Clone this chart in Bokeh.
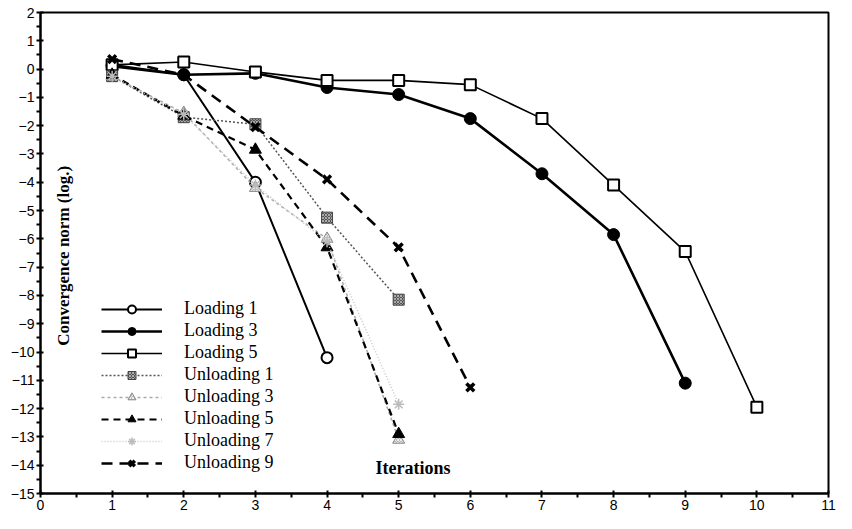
import math
from bokeh.plotting import figure
from bokeh.models import Legend, LegendItem, Label, FixedTicker, Range1d
from bokeh.embed import file_html
from bokeh.resources import INLINE

# ---- data ----
x_loading1 = [1, 2, 3, 4]
y_loading1 = [0.15, -0.2, -4.0, -10.2]

x_loading3 = [1, 2, 3, 4, 5, 6, 7, 8, 9]
y_loading3 = [0.1, -0.2, -0.15, -0.65, -0.9, -1.75, -3.7, -5.85, -11.1]

x_loading5 = [1, 2, 3, 4, 5, 6, 7, 8, 9, 10]
y_loading5 = [0.15, 0.25, -0.1, -0.4, -0.4, -0.55, -1.75, -4.1, -6.45, -11.95]

x_unloading1 = [1, 2, 3, 4, 5]
y_unloading1 = [-0.25, -1.7, -1.95, -5.25, -8.15]

x_unloading3 = [1, 2, 3, 4, 5]
y_unloading3 = [-0.25, -1.55, -4.2, -6.0, -13.1]

x_unloading5 = [1, 2, 3, 4, 5]
y_unloading5 = [-0.2, -1.65, -2.85, -6.3, -12.9]

x_unloading7 = [1, 2, 3, 4, 5]
y_unloading7 = [-0.25, -1.6, -4.1, -6.1, -11.85]

x_unloading9 = [1, 2, 3, 4, 5, 6]
y_unloading9 = [0.35, -0.2, -2.05, -3.9, -6.3, -11.25]

x_ticks = list(range(0, 12))
y_ticks = list(range(-15, 3))

p = figure(width=836, height=513, output_backend="svg", toolbar_location=None,
           x_range=Range1d(0, 11), y_range=Range1d(-15, 2),
           min_border_left=40, min_border_right=8, min_border_top=12, min_border_bottom=20)
p.xgrid.visible = False
p.ygrid.visible = False
p.outline_line_color = "black"
p.outline_line_width = 2
p.background_fill_color = "white"
p.border_fill_color = "white"

p.xaxis.ticker = FixedTicker(ticks=x_ticks, minor_ticks=[t + 0.5 for t in x_ticks[:-1]])
p.yaxis.ticker = FixedTicker(ticks=y_ticks, minor_ticks=[t + 0.5 for t in y_ticks[:-1]])
for ax in (p.xaxis, p.yaxis):
    ax.axis_line_width = 2
    ax.axis_line_color = "black"
    ax.major_tick_line_width = 2
    ax.minor_tick_line_width = 2
    ax.major_tick_in = 3
    ax.major_tick_out = 4
    ax.minor_tick_in = 0
    ax.minor_tick_out = 4
    ax.major_label_text_font = "Liberation Sans"
    ax.major_label_text_font_size = "14px"
    ax.major_label_text_color = "black"
    ax.major_label_standoff = 2

# ---- series ----
l1 = p.line(x_loading1, y_loading1, line_color="black", line_width=2)
m1 = p.scatter(x_loading1, y_loading1, marker="circle", size=11,
               fill_color="white", line_color="black", line_width=2)

l3 = p.line(x_loading3, y_loading3, line_color="black", line_width=2.6)
m3 = p.scatter(x_loading3, y_loading3, marker="circle", size=12,
               fill_color="black", line_color="black")

l5 = p.line(x_loading5, y_loading5, line_color="black", line_width=1.6)
m5 = p.scatter(x_loading5, y_loading5, marker="square", size=11,
               fill_color="white", line_color="black", line_width=2)

u1 = p.line(x_unloading1, y_unloading1, line_color="#555555", line_width=1.5, line_dash="2 2")
n1 = p.scatter(x_unloading1, y_unloading1, marker="square", size=11,
               fill_color="#555555", line_color="#444444",
               hatch_pattern="x", hatch_color="white", hatch_alpha=0.5, hatch_scale=3)

u3 = p.line(x_unloading3, y_unloading3, line_color="#aaaaaa", line_width=1.5, line_dash="3 3")
n3 = p.scatter(x_unloading3, y_unloading3, marker="triangle", size=12,
               fill_color="#bbbbbb", line_color="#888888",
               hatch_pattern="x", hatch_color="white", hatch_alpha=0.7, hatch_scale=3)

u5 = p.line(x_unloading5, y_unloading5, line_color="black", line_width=2.2, line_dash="7 5")
n5 = p.scatter(x_unloading5, y_unloading5, marker="triangle", size=12,
               fill_color="black", line_color="black")

u7 = p.line(x_unloading7, y_unloading7, line_color="#c8c8c8", line_width=1.5, line_dash="1 2")
n7 = p.scatter(x_unloading7, y_unloading7, marker="asterisk", size=11,
               line_color="#bbbbbb", line_width=1.5)

u9 = p.line(x_unloading9, y_unloading9, line_color="black", line_width=2.6, line_dash="11 7")
n9 = p.scatter(x_unloading9, y_unloading9, marker="x", size=11,
               line_color="black", line_width=3.5)

items = [
    LegendItem(label="Loading 1", renderers=[l1, m1]),
    LegendItem(label="Loading 3", renderers=[l3, m3]),
    LegendItem(label="Loading 5", renderers=[l5, m5]),
    LegendItem(label="Unloading 1", renderers=[u1, n1]),
    LegendItem(label="Unloading 3", renderers=[u3, n3]),
    LegendItem(label="Unloading 5", renderers=[u5, n5]),
    LegendItem(label="Unloading 7", renderers=[u7, n7]),
    LegendItem(label="Unloading 9", renderers=[u9, n9]),
]
legend = Legend(items=items, location=(61, 20), border_line_alpha=0,
                background_fill_alpha=0, glyph_width=61, glyph_height=20,
                label_height=20, spacing=1, padding=0, margin=0,
                label_standoff=22, label_text_font="Liberation Serif",
                label_text_font_size="18px", label_text_color="black")
p.add_layout(legend)

p.add_layout(Label(x=0.32, y=-6.6, text="Convergence norm (log.)", angle=math.pi / 2,
                   text_align="center", text_baseline="middle",
                   text_font="Liberation Serif", text_font_style="bold",
                   text_font_size="17px", text_color="black"))
p.add_layout(Label(x=5.2, y=-14.1, text="Iterations",
                   text_align="center", text_baseline="middle",
                   text_font="Liberation Serif", text_font_style="bold",
                   text_font_size="18px", text_color="black"))

open("out.html", "w").write(file_html(p, INLINE))
